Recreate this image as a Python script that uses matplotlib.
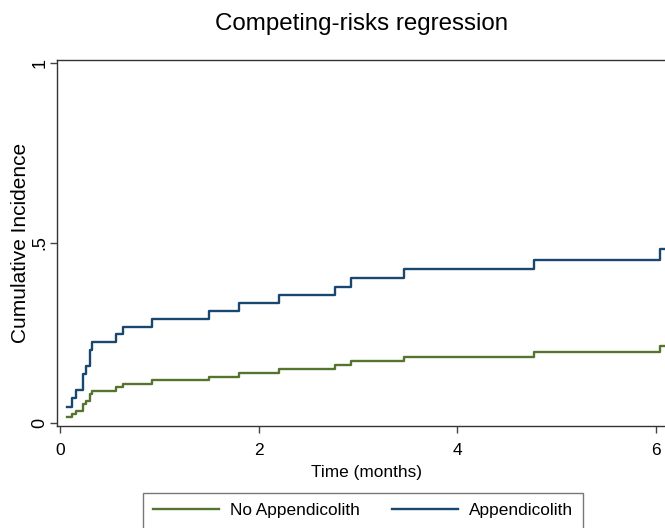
import matplotlib.pyplot as plt

plt.rcParams['font.family'] = ['Liberation Sans', 'DejaVu Sans']

# step times (months) and cumulative incidence for each group
times = [0.07, 0.12, 0.16, 0.23, 0.26, 0.30, 0.325, 0.56, 0.63, 0.93, 1.50,
         1.80, 2.20, 2.77, 2.93, 3.46, 4.77, 6.04, 6.2]
cif_appendicolith = [0.045, 0.069, 0.092, 0.136, 0.158, 0.203, 0.225, 0.246,
                     0.267, 0.290, 0.312, 0.334, 0.356, 0.379, 0.403, 0.427,
                     0.452, 0.482, 0.482]
cif_no_appendicolith = [0.018, 0.025, 0.034, 0.052, 0.062, 0.081, 0.090, 0.101,
                        0.108, 0.119, 0.129, 0.139, 0.150, 0.161, 0.173, 0.184,
                        0.198, 0.215, 0.215]
xticks = [0, 2, 4, 6]
yticks = [0, 0.5, 1]
ytick_labels = ["0", ".5", "1"]

W, H = 665, 528
fig = plt.figure(figsize=(W / 100, H / 100), dpi=100)
ax = fig.add_axes([57 / W, (H - 426) / H, (676 - 57) / W, (426 - 60) / H])

green = "#55752f"
navy = "#1a476f"
ax.plot(times, cif_no_appendicolith, drawstyle="steps-post", color=green, lw=1.7,
        label="No Appendicolith")
ax.plot(times, cif_appendicolith, drawstyle="steps-post", color=navy, lw=1.7,
        label="Appendicolith")

ax.set_xlim(-0.03, 6.2)
ax.set_ylim(-0.0083, 1.0083)
ax.set_xticks(xticks)
ax.set_yticks(yticks)
ax.set_yticklabels(ytick_labels, rotation=90, va="center", fontsize=13)
ax.tick_params(direction="out", length=5, width=1, color="#444444")
ax.tick_params(axis="x", labelsize=12.5, pad=7)
ax.tick_params(axis="y", pad=1)
for s in ax.spines.values():
    s.set_color("#333333")
    s.set_linewidth(1)

ax.set_xlabel("Time (months)", fontsize=12.4, labelpad=5)
ax.set_ylabel("Cumulative Incidence", fontsize=15, labelpad=1)

fig.text(362 / W, 1 - 24 / H, "Competing-risks regression", fontsize=17.4,
         ha="center", va="center")

fig.legend(loc="upper center", bbox_to_anchor=(363 / W, 1 - 493 / H), ncol=2,
           frameon=True, fancybox=False, edgecolor="#555555", fontsize=12.4,
           handlelength=3.8, handletextpad=0.64, columnspacing=1.9,
           borderpad=0.6, borderaxespad=0)

fig.savefig("out.png", dpi=100)
